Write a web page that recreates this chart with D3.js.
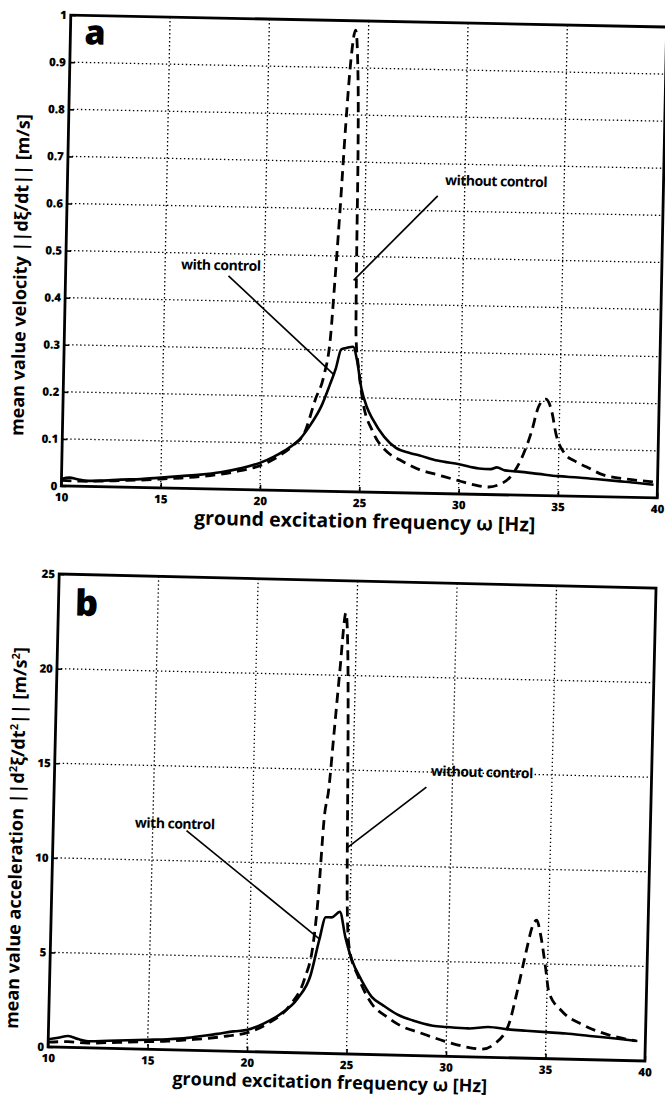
<!DOCTYPE html>
<html>
<head>
<meta charset="utf-8">
<script src="https://cdn.jsdelivr.net/npm/d3@7"></script>
<style>
  body { margin: 0; background: #fff; }
  svg text { font-family: "Open Sans", sans-serif; font-weight: 700; fill: #000; }
</style>
</head>
<body>
<script>
// frequency axis
var xTicks = [10, 15, 20, 25, 30, 35, 40];
var xGrid = [15, 20, 25, 30, 35];

// panel a: velocity
var velTicks = [0, 0.1, 0.2, 0.3, 0.4, 0.5, 0.6, 0.7, 0.8, 0.9, 1];
var velTickLabels = ["0", "0.1", "0.2", "0.3", "0.4", "0.5", "0.6", "0.7", "0.8", "0.9", "1"];
var velWithF = [10, 10.4, 10.8, 11.3, 12, 13, 14, 15, 16, 17, 18, 19, 20, 20.7, 21.4, 22, 22.5, 23, 23.4, 23.7, 23.95, 24.2, 24.55, 24.75, 25.0, 25.3, 25.6, 26.2, 26.8, 27.5, 28, 28.9, 30, 31, 31.6, 31.9, 32.3, 33, 34, 35, 36, 37, 38, 39, 39.8];
var velWithV = [0.015, 0.018, 0.015, 0.012, 0.013, 0.016, 0.018, 0.022, 0.026, 0.03, 0.036, 0.045, 0.058, 0.072, 0.09, 0.112, 0.142, 0.18, 0.225, 0.262, 0.302, 0.305, 0.308, 0.28, 0.22, 0.18, 0.155, 0.118, 0.095, 0.085, 0.08, 0.07, 0.063, 0.055, 0.054, 0.058, 0.052, 0.05, 0.046, 0.042, 0.04, 0.037, 0.034, 0.031, 0.028];
var velWithoutF = [10, 11, 12, 13, 14, 15, 16, 17, 18, 19, 20, 21, 21.6, 22.2, 22.7, 23.1, 23.4, 23.55, 23.75, 23.95, 24.15, 24.35, 24.5, 24.6, 24.63, 24.68, 24.85, 25.1, 25.6, 26.4, 27, 28, 28.9, 30, 31, 31.5, 32, 32.6, 33.1, 33.6, 33.95, 34.3, 34.6, 34.85, 35.3, 35.8, 36.4, 37.3, 38.6, 39.8];
var velWithoutV = [0.012, 0.011, 0.012, 0.014, 0.016, 0.019, 0.022, 0.026, 0.032, 0.04, 0.052, 0.075, 0.095, 0.125, 0.195, 0.245, 0.33, 0.44, 0.6, 0.78, 0.92, 0.98, 0.9, 0.7, 0.5, 0.33, 0.26, 0.19, 0.13, 0.085, 0.07, 0.05, 0.04, 0.028, 0.018, 0.016, 0.021, 0.039, 0.075, 0.134, 0.19, 0.205, 0.18, 0.13, 0.09, 0.075, 0.063, 0.046, 0.038, 0.034];

// panel b: acceleration
var accTicks = [0, 5, 10, 15, 20, 25];
var accTickLabels = ["0", "5", "10", "15", "20", "25"];
var accWithF = [10, 10.5, 11, 11.5, 12, 13, 14, 15, 16, 17, 17.6, 18.5, 19.3, 20, 20.8, 21.6, 22.5, 23.1, 23.5, 23.8, 24.1, 24.5, 24.8, 25.15, 25.65, 26.2, 26.8, 27.5, 28.3, 29.3, 30, 31.1, 32.1, 33.1, 34, 35, 36, 37.2, 38.5, 39.6];
var accWithV = [0.4, 0.5, 0.6, 0.45, 0.35, 0.4, 0.45, 0.5, 0.55, 0.65, 0.75, 0.9, 1.05, 1.15, 1.5, 2.0, 2.9, 4.1, 6.0, 7.2, 7.2, 7.5, 6.2, 5.0, 3.95, 3.05, 2.6, 2.15, 1.85, 1.6, 1.55, 1.5, 1.6, 1.5, 1.45, 1.4, 1.35, 1.25, 1.15, 1.05];
var accWithoutF = [10, 11, 12, 13, 14, 15, 16, 17, 18, 19, 20, 21, 22.1, 22.8, 23.2, 23.4, 23.6, 23.8, 24.0, 24.2, 24.45, 24.6, 24.7, 24.75, 24.85, 25.0, 25.5, 26.2, 27.0, 27.7, 28.7, 29.9, 31.1, 31.8, 32.4, 33.1, 33.5, 33.9, 34.2, 34.4, 34.6, 34.9, 35.1, 35.8, 36.8, 38.1, 39.5];
var accWithoutV = [0.25, 0.3, 0.25, 0.3, 0.35, 0.4, 0.45, 0.55, 0.65, 0.8, 1.0, 1.5, 2.5, 3.9, 5.8, 8.3, 12.4, 14, 17, 20, 23.3, 21, 17, 14, 8.3, 5.7, 4.1, 2.7, 2.0, 1.55, 1.2, 0.8, 0.5, 0.42, 0.7, 1.7, 3.5, 5.6, 7.0, 7.3, 6.6, 4.8, 3.5, 2.5, 1.85, 1.35, 1.05];

var svg = d3.select("body").append("svg")
  .attr("width", 665)
  .attr("height", 1099);

function drawPanel(p) {
  // the scanned figure is slightly tilted
  var g = svg.append("g")
    .attr("transform", "rotate(" + p.angle + " " + p.cx + " " + p.cy + ")");

  var x = d3.scaleLinear().domain([10, 40]).range([p.left, p.right]);
  var y = d3.scaleLinear().domain([0, p.ymax]).range([p.bottom, p.top]);

  // dotted grid
  g.selectAll(".vg").data(xGrid).enter().append("line")
    .attr("x1", function(d) { return x(d); })
    .attr("x2", function(d) { return x(d); })
    .attr("y1", p.top).attr("y2", p.bottom)
    .attr("stroke", "#000").attr("stroke-width", 1.3)
    .attr("stroke-dasharray", "1.4,2.6");
  g.selectAll(".hg").data(p.ticks.slice(1, -1)).enter().append("line")
    .attr("y1", function(d) { return y(d); })
    .attr("y2", function(d) { return y(d); })
    .attr("x1", p.left).attr("x2", p.right)
    .attr("stroke", "#000").attr("stroke-width", 1.3)
    .attr("stroke-dasharray", "1.4,2.6");

  // curves
  var line = d3.line()
    .x(function(d) { return x(d[0]); })
    .y(function(d) { return y(d[1]); })
    .curve(d3.curveMonotoneX);

  g.append("path")
    .datum(d3.zip(p.withoutF, p.withoutV))
    .attr("d", line)
    .attr("fill", "none").attr("stroke", "#000")
    .attr("stroke-width", 2.8).attr("stroke-dasharray", "10,6");
  g.append("path")
    .datum(d3.zip(p.withF, p.withV))
    .attr("d", line)
    .attr("fill", "none").attr("stroke", "#000")
    .attr("stroke-width", 2.6);

  // axes with inward ticks
  var xAxis = d3.axisBottom(x).tickValues(xTicks)
    .tickSizeInner(-5).tickSizeOuter(0).tickPadding(7);
  var yAxis = d3.axisLeft(y).tickValues(p.ticks)
    .tickFormat(function(d, i) { return p.labels[i]; })
    .tickSizeInner(-5).tickSizeOuter(0).tickPadding(4);

  var gx = g.append("g").attr("transform", "translate(0," + p.bottom + ")").call(xAxis);
  var gy = g.append("g").attr("transform", "translate(" + p.left + ",0)").call(yAxis);
  [gx, gy].forEach(function(a) {
    a.select(".domain").remove();
    a.selectAll("line").attr("stroke", "#000").attr("stroke-width", 1.6);
    a.selectAll("text")
      .attr("font-size", 11.5)
      .style("font-family", "'Open Sans', sans-serif")
      .style("font-weight", 800);
  });

  // box
  g.append("rect")
    .attr("x", p.left).attr("y", p.top)
    .attr("width", p.right - p.left).attr("height", p.bottom - p.top)
    .attr("fill", "none").attr("stroke", "#000").attr("stroke-width", 2.8);

  // panel letter
  g.append("text")
    .attr("x", p.letterX).attr("y", p.letterY)
    .attr("font-size", p.letterSize)
    .style("font-weight", 800)
    .text(p.letter);

  // axis titles
  g.append("text")
    .attr("x", p.xTitleX).attr("y", p.xTitleY)
    .attr("text-anchor", "middle")
    .attr("font-size", p.xTitleSize)
    .text("ground excitation frequency \u03c9 [Hz]");

  var yt = g.append("text")
    .attr("transform", "translate(" + p.yTitleX + "," + p.yTitleY + ") rotate(-90)")
    .attr("text-anchor", "middle")
    .attr("font-size", 18);
  p.yTitle(yt);

  // annotations
  var notes = [
    { text: "with control", at: p.withText, seg: p.withLine },
    { text: "without control", at: p.withoutText, seg: p.withoutLine }
  ];
  notes.forEach(function(n) {
    g.append("text")
      .attr("x", x(n.at[0])).attr("y", y(n.at[1]))
      .attr("font-size", 14)
      .attr("letter-spacing", -0.5)
      .text(n.text);
    g.append("line")
      .attr("x1", x(n.seg[0][0])).attr("y1", y(n.seg[0][1]))
      .attr("x2", x(n.seg[1][0])).attr("y2", y(n.seg[1][1]))
      .attr("stroke", "#000").attr("stroke-width", 1.7);
  });
}

drawPanel({
  angle: 1.15, cx: 364, cy: 256.5,
  left: 66, right: 662, top: 21, bottom: 492,
  ymax: 1, ticks: velTicks, labels: velTickLabels,
  withF: velWithF, withV: velWithV, withoutF: velWithoutF, withoutV: velWithoutV,
  letter: "a", letterX: 80, letterY: 50, letterSize: 34,
  xTitleX: 370, xTitleY: 528, xTitleSize: 19.5,
  yTitleX: 27, yTitleY: 282,
  yTitle: function(t) {
    t.append("tspan").text("mean value velocity ||d\u03be/dt|| [m/s]");
  },
  withText: [15.8, 0.465], withLine: [[18.2, 0.453], [23.6, 0.248]],
  withoutText: [29.0, 0.655], withoutLine: [[28.65, 0.632], [24.5, 0.449]]
});

drawPanel({
  angle: 1.35, cx: 352, cy: 819,
  left: 53.5, right: 650.5, top: 581, bottom: 1054,
  ymax: 25, ticks: accTicks, labels: accTickLabels,
  withF: accWithF, withV: accWithV, withoutF: accWithoutF, withoutV: accWithoutV,
  letter: "b", letterX: 70, letterY: 622, letterSize: 36,
  xTitleX: 336, xTitleY: 1089, xTitleSize: 18,
  yTitleX: 23, yTitleY: 846,
  yTitle: function(t) {
    t.append("tspan").text("mean value acceleration ||d");
    t.append("tspan").attr("font-size", 11).attr("dy", -7).text("2");
    t.append("tspan").attr("dy", 7).text("\u03be/dt");
    t.append("tspan").attr("font-size", 11).attr("dy", -7).text("2");
    t.append("tspan").attr("dy", 7).text("|| [m/s");
    t.append("tspan").attr("font-size", 11).attr("dy", -7).text("2");
    t.append("tspan").attr("dy", 7).text("]");
  },
  withText: [14.1, 11.7], withLine: [[16.7, 11.6], [23.5, 6.05]],
  withoutText: [28.9, 14.8], withoutLine: [[28.7, 14.2], [24.8, 10.9]]
});
</script>
</body>
</html>
